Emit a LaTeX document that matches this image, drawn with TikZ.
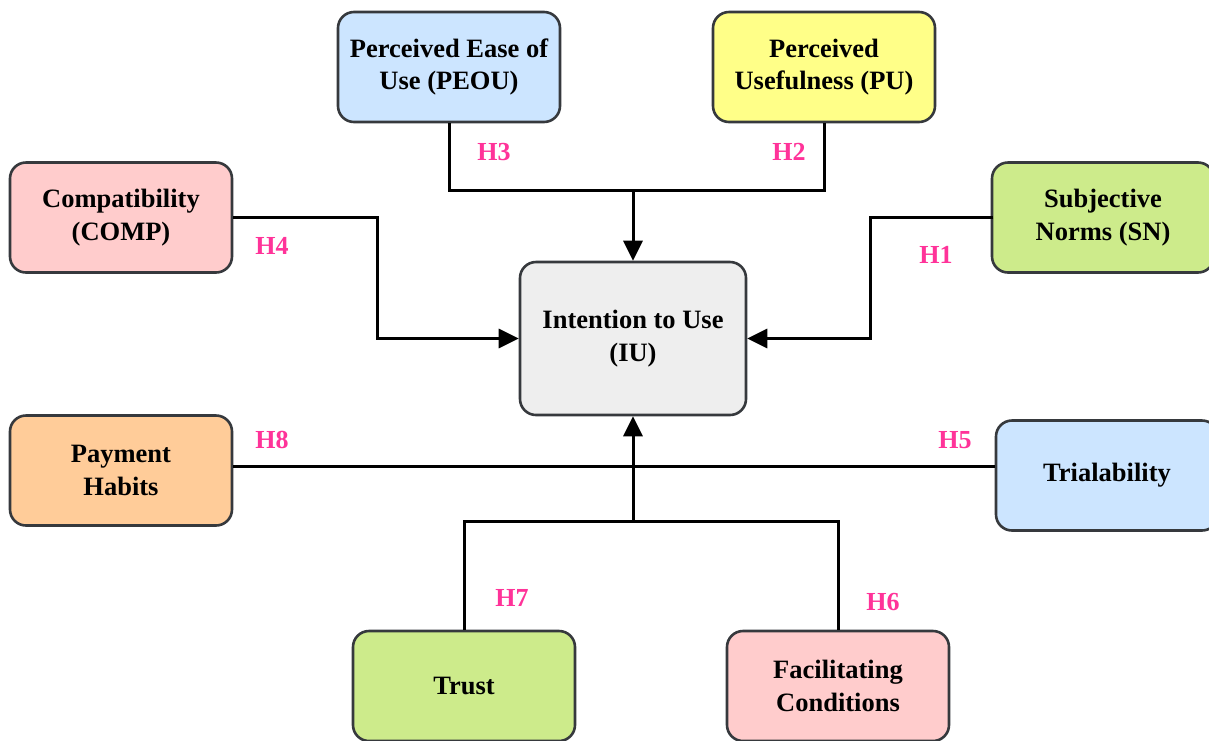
\documentclass[tikz,border=0pt]{standalone}
\usepackage{fontspec}
\setmainfont{Liberation Serif}
\usetikzlibrary{arrows.meta}
\definecolor{boxline}{HTML}{36393D}
\definecolor{cblue}{HTML}{CCE5FF}
\definecolor{cyellow}{HTML}{FFFF88}
\definecolor{cpink}{HTML}{FFCCCC}
\definecolor{cgreen}{HTML}{CDEB8B}
\definecolor{corange}{HTML}{FFCC99}
\definecolor{cgray}{HTML}{EEEEEE}
\definecolor{hyp}{HTML}{FF3399}
\tikzset{
  construct/.style={draw=boxline, line width=2.6pt, rounded corners=16pt,
    minimum width=222pt, minimum height=110pt, align=center,
    font=\fontsize{26.5}{32.5}\selectfont\bfseries, inner sep=0pt},
  link/.style={line width=3pt, draw=black},
  arr/.style={link, -{Triangle[length=20pt,width=19pt]}},
  hlabel/.style={text=hyp, font=\fontsize{26}{30}\selectfont\bfseries, inner sep=0pt}
}
\begin{document}
\begin{tikzpicture}[x=1pt, y=-1pt]
\useasboundingbox (0,0) rectangle (1209,740);

% constructs
\node[construct, fill=cblue]   (PEOU) at (449,67)  {Perceived Ease of\\Use (PEOU)};
\node[construct, fill=cyellow] (PU)   at (824,67)  {Perceived\\Usefulness (PU)};
\node[construct, fill=cpink]   (COMP) at (121,217.5) {Compatibility\\(COMP)};
\node[construct, fill=cgreen]  (SN)   at (1103,217.5) {Subjective\\Norms (SN)};
\node[construct, fill=cgray, minimum width=226pt, minimum height=153pt] (IU) at (633,338.5) {Intention to Use\\(IU)};
\node[construct, fill=corange] (PH)   at (121,470.5) {Payment\\Habits};
\node[construct, fill=cblue]   (TRI)  at (1107,475.5) {Trialability};
\node[construct, fill=cgreen]  (TR)   at (464,686) {Trust};
\node[construct, fill=cpink]   (FC)   at (838,686) {Facilitating\\Conditions};

% junction points
\coordinate (top) at (633,190);
\coordinate (bot) at (633,521);
\coordinate (hline) at (0,466);

% connectors
\draw[link] (PEOU.south) |- (top);
\draw[link] (PU.south) |- (top);
\draw[arr] (top) -- (IU.north);
\draw[arr] (COMP.east) -- ++(144,0) |- (IU.west);
\draw[arr] (SN.east) ++(-222,0) -- ++(-123,0) |- (IU.east);
\draw[link] (PH.east |- hline) -- (TRI.west |- hline);
\draw[link] (TR.north) |- (bot);
\draw[link] (FC.north) |- (bot);
\draw[arr] (bot) -- (IU.south);

% hypothesis labels
\node[hlabel] (H3) at (494,152) {H3};
\node[hlabel] (H2) at (789,152) {H2};
\node[hlabel] (H4) at (272,246) {H4};
\node[hlabel] (H1) at (936,255) {H1};
\node[hlabel] (H8) at (272,440) {H8};
\node[hlabel] (H5) at (955,440) {H5};
\node[hlabel] (H7) at (512,598) {H7};
\node[hlabel] (H6) at (883,602) {H6};
\end{tikzpicture}
\end{document}
